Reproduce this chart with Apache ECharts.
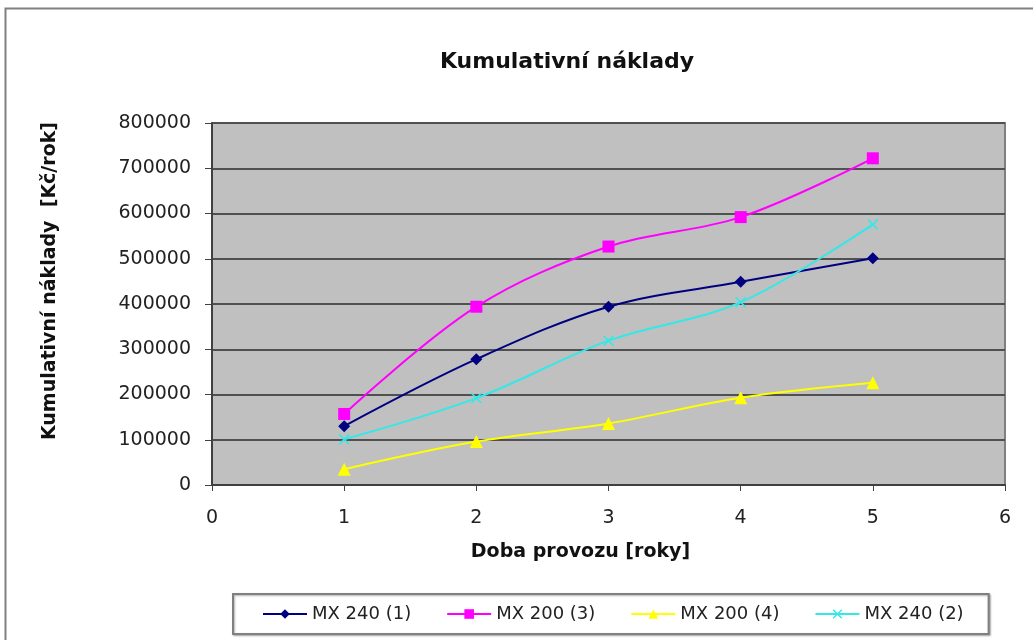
<!DOCTYPE html>
<html>
<head>
<meta charset="utf-8">
<script src="https://cdn.jsdelivr.net/npm/echarts@6/dist/echarts.min.js"></script>
<style>
  html, body { margin: 0; padding: 0; background: #fff; }
  #chart { width: 1033px; height: 640px; }
</style>
</head>
<body>
<div id="chart"></div>
<script>
// roky provozu
const years = [1, 2, 3, 4, 5];
// kumulativni naklady [Kc/rok]
const mx240_1 = [130000, 278000, 394000, 449000, 501000];
const mx200_3 = [157000, 394000, 527000, 592000, 722000];
const mx200_4 = [35000, 96000, 136000, 193000, 226000];
const mx240_2 = [101000, 192000, 319000, 404000, 576000];

const FONT = "'DejaVu Sans', Verdana, sans-serif";
const crossPath = 'path://M0,1 L1,0 L5,4 L9,0 L10,1 L6,5 L10,9 L9,10 L5,6 L1,10 L0,9 L4,5 Z';

function pairs(vals) {
    return years.map((y, i) => [y, vals[i]]);
}

function mkSeries(name, vals, color, symbol, size) {
    return {
        name: name,
        type: 'line',
        data: pairs(vals),
        smooth: 0.35,
        symbol: symbol,
        symbolSize: size,
        showAllSymbol: true,
        lineStyle: { color: color, width: 2 },
        itemStyle: { color: color, borderColor: color, borderWidth: 0 }
    };
}

const myChart = echarts.init(document.getElementById('chart'));

let option = {
    animation: false,
    backgroundColor: '#fff',
    textStyle: { fontFamily: FONT },
    graphic: [
        {
            type: 'rect',
            shape: { x: 5.5, y: 8.5, width: 1100, height: 700 },
            style: { fill: 'none', stroke: '#808080', lineWidth: 2 },
            z: -10
        }
    ],
    title: {
        text: 'Kumulativní náklady',
        left: 562,
        textAlign: 'center',
        top: 46,
        textStyle: { fontFamily: FONT, fontSize: 22, fontWeight: 'bold', color: '#111' }
    },
    grid: {
        left: 212, right: 28, top: 123, bottom: 155,
        show: true,
        backgroundColor: '#C0C0C0',
        borderColor: '#808080',
        borderWidth: 2
    },
    xAxis: {
        type: 'value',
        min: 0, max: 6, interval: 1,
        name: 'Doba provozu [roky]',
        nameLocation: 'middle',
        nameGap: 58,
        nameTextStyle: { fontFamily: FONT, fontSize: 19, fontWeight: 'bold', color: '#111', padding: [0, 56, 0, 0] },
        axisLine: { onZero: false, lineStyle: { color: '#404040', width: 2 } },
        axisTick: { show: true, length: 6, inside: false, lineStyle: { color: '#404040' } },
        axisLabel: { fontFamily: FONT, fontSize: 19, color: '#222', margin: 24 },
        splitLine: { show: false }
    },
    yAxis: {
        type: 'value',
        min: 0, max: 800000, interval: 100000,
        name: 'Kumulativní náklady  [Kč/rok]',
        nameLocation: 'middle',
        nameGap: 152,
        nameTextStyle: { fontFamily: FONT, fontSize: 19, fontWeight: 'bold', color: '#111', padding: [0, 0, 0, 46] },
        axisLine: { show: true, lineStyle: { color: '#404040', width: 2 } },
        axisTick: { show: true, length: 7, lineStyle: { color: '#404040' } },
        axisLabel: { fontFamily: FONT, fontSize: 19, color: '#222', margin: 21, formatter: v => String(v) },
        splitLine: { show: true, lineStyle: { color: '#505050', width: 2 } }
    },
    legend: {
        left: 233,
        top: 594,
        orient: 'horizontal',
        backgroundColor: '#fff',
        borderColor: '#808080',
        borderWidth: 2,
        padding: [11, 25, 11, 29],
        itemWidth: 44,
        itemHeight: 12,
        itemGap: 35,
        shadowColor: 'rgba(0,0,0,0.3)',
        shadowBlur: 2,
        shadowOffsetX: 1,
        shadowOffsetY: 1,
        textStyle: { fontFamily: FONT, fontSize: 18, color: '#222' }
    },
    series: [
        mkSeries('MX 240 (1)', mx240_1, '#000080', 'diamond', 12),
        mkSeries('MX 200 (3)', mx200_3, '#FF00FF', 'rect', 12),
        mkSeries('MX 200 (4)', mx200_4, '#FFFF00', 'triangle', 13),
        mkSeries('MX 240 (2)', mx240_2, '#33E8E8', crossPath, 11)
    ]
};

option && myChart.setOption(option);
</script>
</body>
</html>
